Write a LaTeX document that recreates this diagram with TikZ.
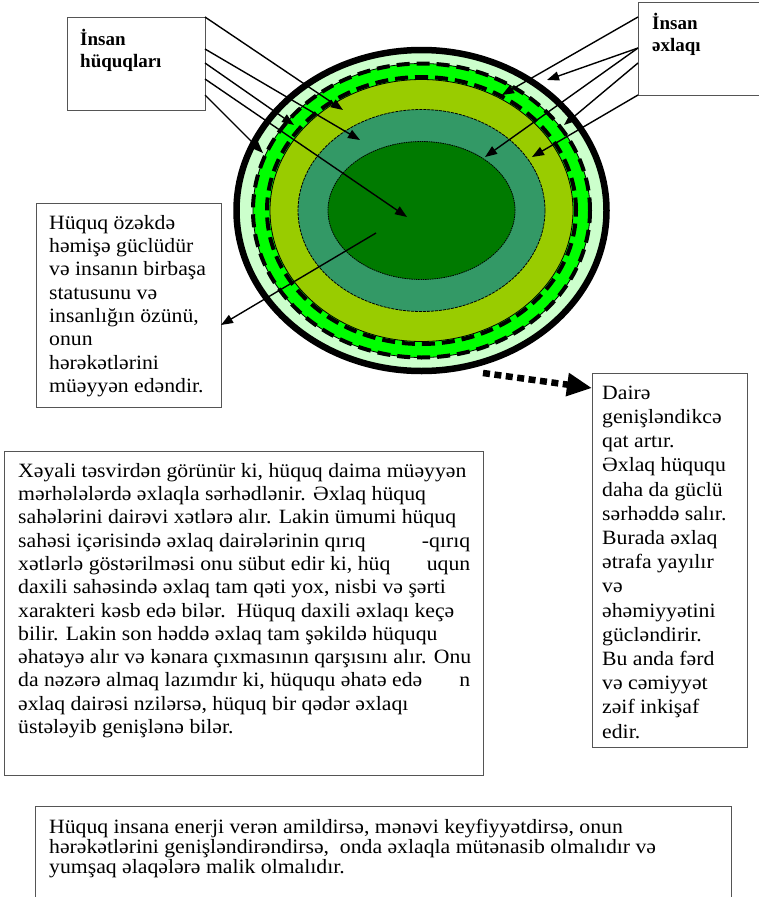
\documentclass[tikz,border=0pt]{standalone}
\usepackage{fontspec}
\setmainfont{Liberation Serif}[FakeStretch=1.07]
\newfontfamily\lblfam{Liberation Serif}
\usetikzlibrary{arrows.meta}
\definecolor{lgreen}{HTML}{CCFFCC}
\definecolor{bgreen}{HTML}{00FF00}
\definecolor{ygreen}{HTML}{99CC00}
\definecolor{tealg}{HTML}{339966}
\definecolor{dgreen}{HTML}{007A00}
\definecolor{boxline}{HTML}{555555}
\newcommand\mytightlines{\lineskiplimit -50pt\relax}
\begin{document}
\begin{tikzpicture}[x=1pt,y=-1pt,
  frame/.style={draw=boxline, line width=1.2pt, fill=white, inner sep=0pt, anchor=north west},
  txt/.style={inner sep=0pt, anchor=north west, align=left},
  bodyfont/.style={font=\fontsize{20.3}{23.3}\selectfont},
  labelfont/.style={font=\lblfam\fontsize{19}{22.5}\selectfont\bfseries},
  ptr/.style={line width=1.4pt, -{Triangle[length=12pt,width=9pt]}},
  thickdash/.style={line width=4pt, dash pattern=on 13pt off 7pt},
  thinline/.style={line width=0.8pt},
]
\useasboundingbox (0,0) rectangle (759,897);

% ---- nested ellipses ----
\coordinate (c) at (421.5,210.5);
\filldraw[fill=lgreen, draw=black, line width=6.5pt] (c) ellipse [x radius=185pt, y radius=160.5pt];
\filldraw[fill=bgreen, draw=black, thinline] (c) ellipse [x radius=168.5pt, y radius=147pt];
\draw[thickdash] (c) ellipse [x radius=168.5pt, y radius=147pt];
\draw[thickdash] (c) ellipse [x radius=154.5pt, y radius=133.5pt];
\filldraw[fill=ygreen, draw=black, thinline] (c) ellipse [x radius=151.5pt, y radius=131pt];
\filldraw[fill=tealg, draw=black, thinline, dash pattern=on 3pt off 1pt] (c) ellipse [x radius=123.5pt, y radius=101pt];
\filldraw[fill=dgreen, draw=black, thinline, dash pattern=on 1.5pt off 0.8pt] (c) ellipse [x radius=93.5pt, y radius=69pt];

% ---- boxes ----
\node[frame, minimum width=138pt, minimum height=93pt] (hb) at (67,17) {};
\node[txt, labelfont] (ht) at (80,28) {\rule{0pt}{17pt}İnsan\\hüquqları};

\node[frame, minimum width=124pt, minimum height=93pt] (eb) at (638,2) {};
\node[txt, labelfont] (et) at (652,12) {\rule{0pt}{17pt}İnsan\\əxlaqı};

\node[frame, minimum width=185pt, minimum height=204pt] (lb) at (36,203) {};
\node[txt, bodyfont] (lt) at (49,213) {\rule{0pt}{16pt}Hüquq özəkdə\\həmişə güclüdür\\və insanın birbaşa\\statusunu və\\insanlığın özünü,\\onun\\hərəkətlərini\\müəyyən edəndir.};

\node[frame, minimum width=155pt, minimum height=374pt] (rb) at (592,373) {};
\node[txt, font=\fontsize{20.3}{24.2}\selectfont] (rt) at (602,383) {\rule{0pt}{16pt}Dairə\\genişləndikcə\\qat artır.\\Əxlaq hüququ\\daha da güclü\\sərhəddə salır.\\Burada əxlaq\\ətrafa yayılır\\və\\əhəmiyyətini\\gücləndirir.\\Bu anda fərd\\və cəmiyyət\\zəif inkişaf\\edir.};

\node[frame, minimum width=479pt, minimum height=324pt] (bb) at (4,451) {};
\node[txt, bodyfont] (bt) at (18,461) {\rule{0pt}{16pt}Xəyali təsvirdən görünür ki, hüquq daima müəyyən\\
mərhələlərdə əxlaqla sərhədlənir. Əxlaq hüquq\\
sahələrini dairəvi xətlərə alır. Lakin ümumi hüquq\\
\makebox[452pt][l]{sahəsi içərisində əxlaq dairələrinin qırıq\hfill-qırıq}\\
\makebox[452pt][l]{xətlərlə göstərilməsi onu sübut edir ki, hüq\hfill uqun}\\
daxili sahəsində əxlaq tam qəti yox, nisbi və şərti\\
xarakteri kəsb edə bilər.\ \ Hüquq daxili əxlaqı keçə\\
bilir. Lakin son həddə əxlaq tam şəkildə hüququ\\
əhatəyə alır və kənara çıxmasının qarşısını alır. Onu\\
\makebox[452pt][l]{da nəzərə almaq lazımdır ki, hüququ əhatə edə\hfill n}\\
əxlaq dairəsi nzilərsə, hüquq bir qədər əxlaqı\\
üstələyib genişlənə bilər.};

\node[frame, minimum width=696pt, minimum height=100pt] (fb) at (35,806) {};
\node[txt, font=\fontsize{20.3}{20}\selectfont\mytightlines] (ft) at (49,817) {\rule{0pt}{16pt}Hüquq insana enerji verən amildirsə, mənəvi keyfiyyətdirsə, onun\\
hərəkətlərini genişləndirəndirsə,\ \ onda əxlaqla mütənasib olmalıdır və\\
yumşaq əlaqələrə malik olmalıdır.};

% ---- arrow coordinates ----
\coordinate (h1) at (205,17);  \coordinate (h1e) at (343,110);
\coordinate (h2) at (205,49);  \coordinate (h2e) at (360,140);
\coordinate (h3) at (205,63);  \coordinate (h3e) at (294,125);
\coordinate (h4) at (205,79);  \coordinate (h4e) at (407,217);
\coordinate (h5) at (205,95);  \coordinate (h5e) at (263,153);

\coordinate (e1) at (638,17);  \coordinate (e1e) at (502,95);
\coordinate (e2) at (638,48);  \coordinate (e2e) at (547,80);
                               \coordinate (e3e) at (485,157);
\coordinate (e4) at (638,63);  \coordinate (e4e) at (564,125);
\coordinate (e5) at (638,95);  \coordinate (e5e) at (532,157);

\coordinate (l0) at (376,233); \coordinate (l0e) at (221,325);
\coordinate (d0) at (483,373); \coordinate (d0e) at (592,388);

\draw[ptr] (h1) -- (h1e);
\draw[ptr] (h2) -- (h2e);
\draw[ptr] (h3) -- (h3e);
\draw[ptr] (h4) -- (h4e);
\draw[ptr] (h5) -- (h5e);
\draw[ptr] (e1) -- (e1e);
\draw[ptr] (e2) -- (e2e);
\draw[ptr] (e2) -- (e3e);
\draw[ptr] (e4) -- (e4e);
\draw[ptr] (e5) -- (e5e);
\draw[ptr] (l0) -- (l0e);
\draw[line width=6.5pt, dash pattern=on 7pt off 4.5pt, -{Triangle[length=25pt,width=22pt]}] (d0) -- (d0e);
\end{tikzpicture}
\end{document}
